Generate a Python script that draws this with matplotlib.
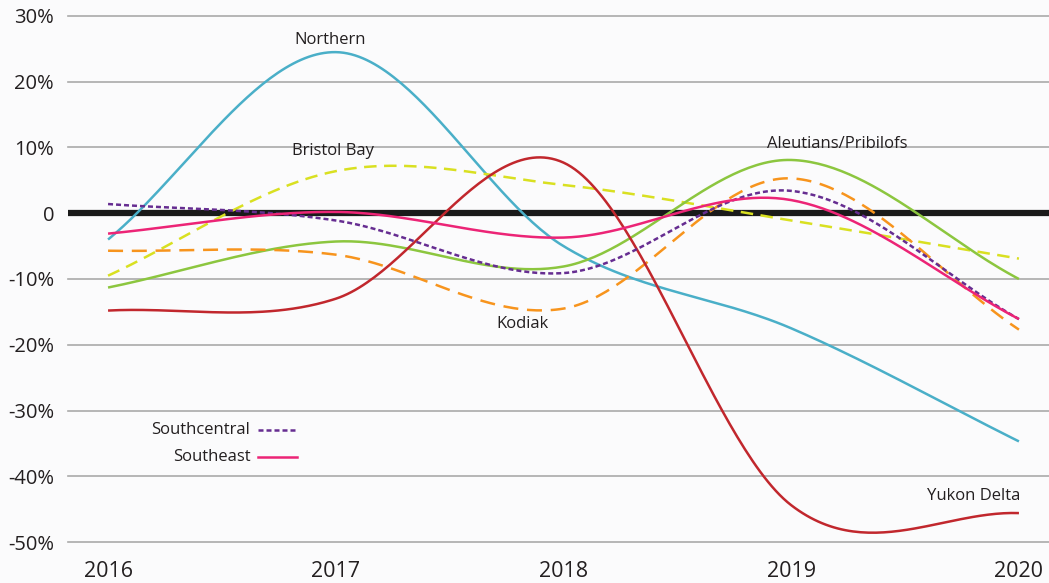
import matplotlib
matplotlib.use("Agg")
import matplotlib.pyplot as plt
import numpy as np

plt.rcParams['font.family'] = ['Open Sans', 'DejaVu Sans']

years = [2016, 2017, 2018, 2019, 2020]

northern = [-4.0, 24.5, -5.0, -17.5, -34.7]
yukon_delta = [-14.8, -13.0, 7.7, -44.4, -45.6]
bristol_bay = [-9.5, 6.4, 4.3, -1.1, -6.9]
aleutians = [-11.3, -4.3, -8.1, 8.1, -10.0]
kodiak = [-5.7, -6.3, -14.5, 5.3, -17.7]
southcentral = [1.4, -1.1, -9.1, 3.4, -16.1]
southeast = [-3.1, 0.2, -3.7, 2.0, -16.1]

yticks = [30, 20, 10, 0, -10, -20, -30, -40, -50]
ytick_labels = ["30%", "20%", "10%", "0", "-10%", "-20%", "-30%", "-40%", "-50%"]


def smooth(x, y, n=60):
    # catmull-rom style smoothing, like a spreadsheet "smoothed line"
    x = np.asarray(x, float)
    y = np.asarray(y, float)
    m = np.zeros_like(y)
    m[1:-1] = (y[2:] - y[:-2]) / (x[2:] - x[:-2])
    m[0] = (y[1] - y[0]) / (x[1] - x[0])
    m[-1] = (y[-1] - y[-2]) / (x[-1] - x[-2])
    xs, ys = [], []
    for i in range(len(x) - 1):
        h = x[i + 1] - x[i]
        t = np.linspace(0, 1, n)
        h00 = 2 * t**3 - 3 * t**2 + 1
        h10 = t**3 - 2 * t**2 + t
        h01 = -2 * t**3 + 3 * t**2
        h11 = t**3 - t**2
        xs.append(x[i] + t * h)
        ys.append(h00 * y[i] + h10 * h * m[i] + h01 * y[i + 1] + h11 * h * m[i + 1])
    return np.concatenate(xs), np.concatenate(ys)


fig = plt.figure(figsize=(10.49, 5.83), dpi=100)
fig.patch.set_facecolor("#fbfbfc")
ax = fig.add_axes([0.0648, 0.0703, 0.9352, 0.9023])
ax.set_facecolor("#fbfbfc")

ax.set_xlim(2015.824, 2020.132)
ax.set_ylim(-50, 30)

for v in yticks:
    if v != 0:
        ax.axhline(v, color="#aaaaaa", lw=1.2, zorder=1, clip_on=False)

series = [
    (northern, "#4aafc8", "-"),
    (bristol_bay, "#d9e021", (0, (5, 3))),
    (aleutians, "#8cc63f", "-"),
    (kodiak, "#f7941d", (0, (6, 3.5))),
    (yukon_delta, "#c1272d", "-"),
    (southcentral, "#662d91", (0, (2, 1.2))),
    (southeast, "#ec2476", "-"),
]
for vals, col, ls in series:
    sx, sy = smooth(years, vals)
    ax.plot(sx, sy, color=col, lw=1.8, ls=ls, zorder=3, solid_capstyle="butt")

ax.axhline(0, color="#1a1a1a", lw=4.5, zorder=2)

ax.set_xticks(years)
ax.set_xticklabels([str(y) for y in years], fontsize=15.5, color="#231f20")
ax.set_yticks(yticks)
ax.set_yticklabels(ytick_labels, fontsize=14.5, color="#231f20")
ax.tick_params(length=0)
ax.tick_params(axis="x", pad=14)
ax.tick_params(axis="y", pad=10)
for s in ax.spines.values():
    s.set_visible(False)

lab = dict(fontsize=12, color="#231f20", ha="center", va="center")
ax.text(2016.975, 26.4, "Northern", **lab)
ax.text(2016.99, 9.4, "Bristol Bay", **lab)
ax.text(2019.2, 10.6, "Aleutians/Pribilofs", **lab)
ax.text(2017.82, -16.8, "Kodiak", **lab)
ax.text(2020.005, -43.0, "Yukon Delta", fontsize=12, color="#231f20", ha="right", va="center")

ax.text(2016.625, -33.0, "Southcentral", fontsize=12, color="#231f20", ha="right", va="center")
ax.text(2016.625, -37.0, "Southeast", fontsize=12, color="#231f20", ha="right", va="center")
ax.plot([2016.66, 2016.83], [-33.0, -33.0], color="#662d91", lw=1.8, ls=(0, (2, 1.2)))
ax.plot([2016.66, 2016.83], [-37.0, -37.0], color="#ec2476", lw=1.8)

fig.savefig("out.png", dpi=100, facecolor=fig.get_facecolor())
